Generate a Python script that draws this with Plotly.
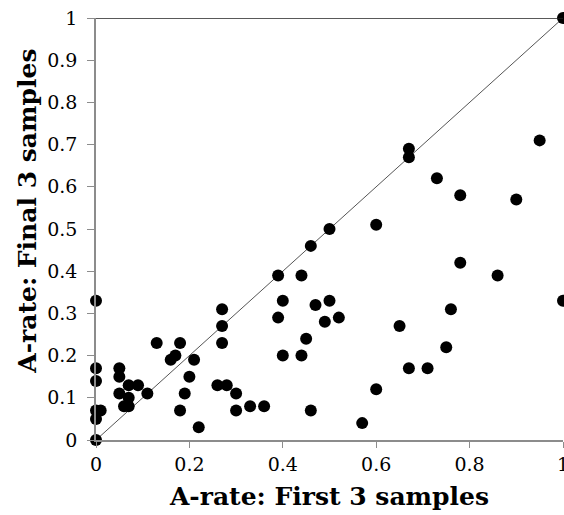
import plotly.graph_objects as go

# A-rate: First 3 samples (x) vs Final 3 samples (y)
first3 = [0, 0, 0, 0.01, 0, 0, 0,
          0.05, 0.05, 0.05, 0.07, 0.09, 0.07, 0.06, 0.07, 0.11,
          0.13, 0.16, 0.17, 0.18, 0.21, 0.20, 0.19, 0.18, 0.22,
          0.27, 0.27, 0.27, 0.26, 0.28, 0.30, 0.30, 0.33, 0.36,
          0.39, 0.40, 0.39, 0.40, 0.44, 0.44, 0.45, 0.46, 0.47, 0.50, 0.49, 0.52, 0.46, 0.50,
          0.57, 0.60, 0.60, 0.65, 0.67, 0.71, 0.75, 0.76,
          0.67, 0.67, 0.73, 0.78, 0.78, 0.86, 0.90, 0.95, 1.0, 1.0]
final3 = [0, 0.05, 0.07, 0.07, 0.14, 0.17, 0.33,
          0.17, 0.15, 0.11, 0.13, 0.13, 0.10, 0.08, 0.08, 0.11,
          0.23, 0.19, 0.20, 0.23, 0.19, 0.15, 0.11, 0.07, 0.03,
          0.31, 0.27, 0.23, 0.13, 0.13, 0.11, 0.07, 0.08, 0.08,
          0.39, 0.33, 0.29, 0.20, 0.20, 0.39, 0.24, 0.46, 0.32, 0.33, 0.28, 0.29, 0.07, 0.50,
          0.04, 0.12, 0.51, 0.27, 0.17, 0.17, 0.22, 0.31,
          0.69, 0.67, 0.62, 0.58, 0.42, 0.39, 0.57, 0.71, 1.0, 0.33]

diag = [0, 1]
x_ticks = [0, 0.2, 0.4, 0.6, 0.8, 1]
x_ticklabels = ["0", "0.2", "0.4", "0.6", "0.8", "1"]
y_ticks = [0, 0.1, 0.2, 0.3, 0.4, 0.5, 0.6, 0.7, 0.8, 0.9, 1]
y_ticklabels = ["0", "0.1", "0.2", "0.3", "0.4", "0.5", "0.6", "0.7", "0.8", "0.9", "1"]
x_title = "A-rate: First 3 samples"
y_title = "A-rate: Final 3 samples"

serif = "DejaVu Serif"

fig = go.Figure()
fig.add_trace(go.Scatter(x=diag, y=diag, mode="lines",
                         line=dict(color="#555555", width=1),
                         hoverinfo="skip", showlegend=False))
fig.add_trace(go.Scatter(x=first3, y=final3, mode="markers",
                         marker=dict(color="black", size=12, line=dict(width=0)),
                         cliponaxis=False, showlegend=False))

fig.add_shape(type="line", xref="paper", yref="y", x0=0, x1=1, y0=1, y1=1,
              line=dict(color="#222222", width=1.5))

fig.add_annotation(text="<b>" + y_title + "</b>", textangle=-90,
                   xref="paper", yref="paper", x=-0.146, y=0.543,
                   xanchor="center", yanchor="middle", showarrow=False,
                   font=dict(family=serif, size=25, color="black"))

fig.update_layout(
    width=564, height=515,
    margin=dict(l=96, r=1, t=18, b=75),
    paper_bgcolor="white", plot_bgcolor="white",
    font=dict(family=serif, color="black"),
)
fig.update_xaxes(range=[0, 1], tickvals=x_ticks, ticktext=x_ticklabels,
                 showgrid=False, zeroline=False, ticklabeloverflow="allow",
                 automargin=False,
                 showline=True, linecolor="#8c8c8c", linewidth=1.5,
                 ticks="outside", ticklen=6, tickcolor="#8c8c8c", tickwidth=1,
                 tickfont=dict(family=serif, size=19, color="black"),
                 title=dict(text="<b>" + x_title + "</b>",
                            font=dict(family=serif, size=25, color="black"),
                            standoff=14))
fig.update_yaxes(range=[0, 1], tickvals=y_ticks, ticktext=y_ticklabels,
                 showgrid=False, zeroline=False, automargin=False,
                 showline=True, linecolor="#8c8c8c", linewidth=1.5,
                 ticks="outside", ticklen=7, tickcolor="#8c8c8c", tickwidth=1,
                 ticklabelstandoff=6,
                 tickfont=dict(family=serif, size=19, color="black"))

fig.write_html("out.html")
